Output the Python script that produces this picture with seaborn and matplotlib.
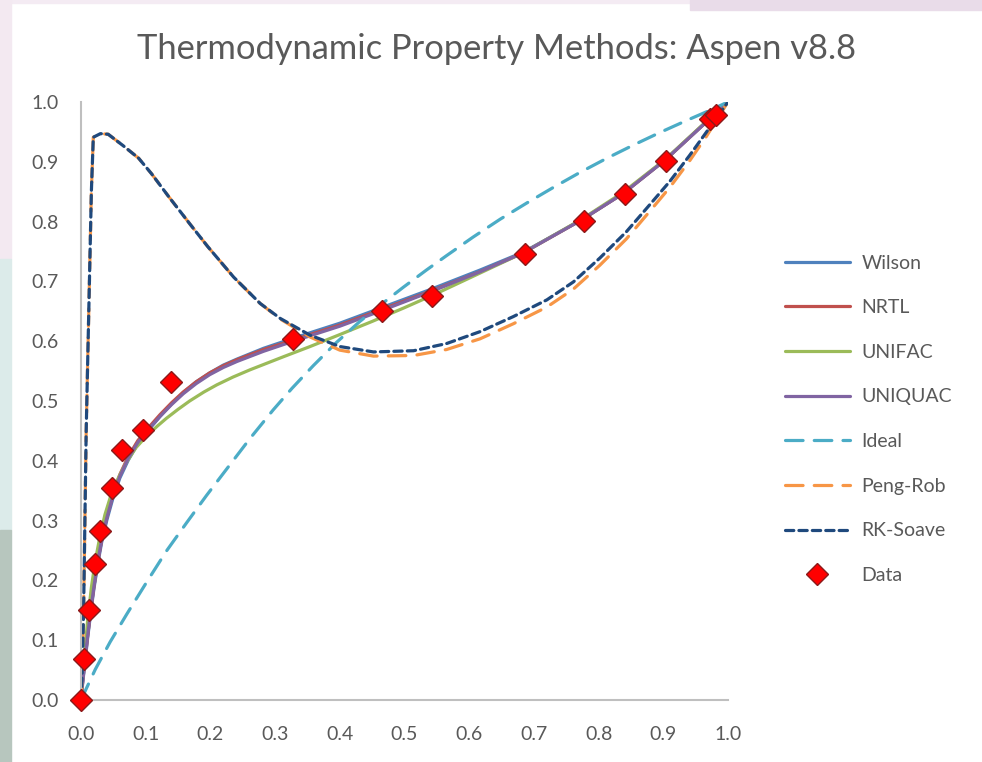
import matplotlib
matplotlib.use("Agg")
import matplotlib.pyplot as plt
from matplotlib.patches import Rectangle
import seaborn as sns
import pandas as pd

# ---- measured VLE data (liquid mole fraction x, vapour mole fraction y) ----
data_x = [0.0, 0.004, 0.013, 0.022, 0.030, 0.048, 0.064, 0.096, 0.139, 0.327,
          0.465, 0.542, 0.686, 0.777, 0.841, 0.905, 0.973, 0.982]
data_y = [0.0, 0.069, 0.151, 0.228, 0.282, 0.355, 0.418, 0.452, 0.531, 0.604,
          0.651, 0.675, 0.745, 0.801, 0.846, 0.901, 0.972, 0.978]

# ---- activity-coefficient models ----
act_x = [0.0, 0.002, 0.005, 0.010, 0.015, 0.020, 0.026, 0.032, 0.040, 0.049,
         0.060, 0.073, 0.088, 0.104, 0.122, 0.140, 0.158, 0.178, 0.199, 0.220,
         0.241, 0.282, 0.323, 0.354, 0.400, 0.462, 0.539, 0.617, 0.684, 0.774,
         0.838, 0.903, 0.972, 1.0]

wilson_y = [0.0, 0.022, 0.052, 0.101, 0.146, 0.186, 0.228, 0.264, 0.301, 0.336,
            0.371, 0.401, 0.429, 0.451, 0.474, 0.495, 0.514, 0.532, 0.547, 0.560,
            0.570, 0.588, 0.603, 0.614, 0.630, 0.655, 0.686, 0.719, 0.749, 0.803,
            0.847, 0.903, 0.972, 1.0]

nrtl_y = [0.0, 0.025, 0.055, 0.105, 0.150, 0.190, 0.232, 0.268, 0.306, 0.342,
          0.377, 0.407, 0.434, 0.455, 0.477, 0.497, 0.515, 0.532, 0.547, 0.559,
          0.569, 0.586, 0.600, 0.611, 0.627, 0.652, 0.683, 0.716, 0.748, 0.803,
          0.847, 0.903, 0.972, 1.0]

uniquac_y = [0.0, 0.025, 0.055, 0.105, 0.150, 0.190, 0.232, 0.268, 0.305, 0.340,
             0.374, 0.404, 0.431, 0.452, 0.474, 0.494, 0.512, 0.529, 0.544, 0.556,
             0.566, 0.583, 0.598, 0.609, 0.625, 0.650, 0.682, 0.716, 0.748, 0.803,
             0.847, 0.903, 0.972, 1.0]

unifac_x = [0.0, 0.002, 0.005, 0.010, 0.016, 0.022, 0.029, 0.037, 0.047, 0.058,
            0.070, 0.085, 0.101, 0.118, 0.132, 0.150, 0.168, 0.190, 0.210, 0.235,
            0.261, 0.287, 0.313, 0.354, 0.400, 0.450, 0.500, 0.550, 0.617, 0.684,
            0.774, 0.838, 0.903, 0.972, 1.0]
unifac_y = [0.0, 0.030, 0.070, 0.130, 0.188, 0.232, 0.272, 0.310, 0.345, 0.372,
            0.397, 0.422, 0.441, 0.458, 0.471, 0.486, 0.500, 0.515, 0.527, 0.540,
            0.552, 0.563, 0.574, 0.591, 0.611, 0.633, 0.656, 0.680, 0.714, 0.748,
            0.804, 0.849, 0.904, 0.973, 1.0]

# ---- ideal (Raoult's law) ----
ideal_x = [0.0, 0.006, 0.022, 0.045, 0.071, 0.102, 0.132, 0.163, 0.194, 0.225,
           0.261, 0.297, 0.326, 0.359, 0.395, 0.431, 0.467, 0.498, 0.534, 0.565,
           0.606, 0.648, 0.689, 0.730, 0.771, 0.813, 0.854, 0.895, 0.936, 0.972,
           1.0]
ideal_y = [0.0, 0.014, 0.051, 0.097, 0.144, 0.198, 0.249, 0.296, 0.342, 0.386,
           0.437, 0.485, 0.521, 0.559, 0.598, 0.633, 0.664, 0.690, 0.719, 0.743,
           0.774, 0.804, 0.831, 0.857, 0.882, 0.906, 0.928, 0.949, 0.969, 0.986,
           1.0]

# ---- cubic equations of state ----
eos_x = [0.0, 0.002, 0.004, 0.006, 0.008, 0.010, 0.013, 0.016, 0.019, 0.030,
         0.042, 0.065, 0.089, 0.109, 0.136, 0.169, 0.196, 0.236, 0.277, 0.308,
         0.354, 0.400, 0.452, 0.514, 0.565, 0.617, 0.668, 0.720, 0.761, 0.802,
         0.843, 0.879, 0.910, 0.941, 0.967, 1.0]

rk_y = [0.0, 0.05, 0.15, 0.30, 0.45, 0.55, 0.70, 0.85, 0.941, 0.947,
        0.946, 0.927, 0.906, 0.880, 0.841, 0.795, 0.758, 0.707, 0.663, 0.638,
        0.610, 0.591, 0.582, 0.584, 0.596, 0.616, 0.641, 0.669, 0.699, 0.739,
        0.783, 0.828, 0.867, 0.911, 0.950, 1.0]

pr_y = [0.0, 0.05, 0.15, 0.30, 0.45, 0.55, 0.70, 0.85, 0.941, 0.947,
        0.946, 0.927, 0.906, 0.880, 0.841, 0.795, 0.758, 0.707, 0.663, 0.637,
        0.607, 0.585, 0.575, 0.576, 0.586, 0.604, 0.629, 0.657, 0.687, 0.727,
        0.771, 0.817, 0.857, 0.902, 0.943, 1.0]

# ---- styling ----
sns.set_theme(style="white")
plt.rcParams["font.family"] = ["Lato", "DejaVu Sans"]
text_grey = "#595959"

fig = plt.figure(figsize=(9.82, 7.62), dpi=100)
fig.patch.set_facecolor("white")

# slide backdrop peeking around the chart
fig.patches.extend([
    Rectangle((0, 0.996), 1, 0.004, transform=fig.transFigure, color="#F4EBF3", zorder=0),
    Rectangle((0.703, 0.987), 0.297, 0.013, transform=fig.transFigure, color="#E9DCE9", zorder=0),
    Rectangle((0, 0.66), 0.011, 0.34, transform=fig.transFigure, color="#F3E9F1", zorder=0),
    Rectangle((0, 0.305), 0.011, 0.355, transform=fig.transFigure, color="#DCEBEA", zorder=0),
    Rectangle((0, 0.0), 0.011, 0.305, transform=fig.transFigure, color="#B7C6BE", zorder=0),
])

ax = fig.add_axes([0.0825, 0.0814, 0.6588, 0.7848])
ax.set_facecolor("white")

series = [
    ("Wilson", act_x, wilson_y, "#4F81BD", "-"),
    ("NRTL", act_x, nrtl_y, "#C0504D", "-"),
    ("UNIFAC", unifac_x, unifac_y, "#9BBB59", "-"),
    ("UNIQUAC", act_x, uniquac_y, "#8064A2", "-"),
    ("Ideal", ideal_x, ideal_y, "#4BACC6", (0, (5.5, 3.5))),
    ("Peng-Rob", eos_x, pr_y, "#F79646", (0, (5.5, 3.5))),
    ("RK-Soave", eos_x, rk_y, "#1F497D", (0, (2.6, 1.6))),
]

for name, xs, ys, col, ls in series:
    df = pd.DataFrame({"x": xs, "y": ys})
    sns.lineplot(data=df, x="x", y="y", ax=ax, sort=False, estimator=None,
                 color=col, linewidth=2.3, linestyle=ls, label=name,
                 solid_capstyle="round", dash_capstyle="round",
                 solid_joinstyle="round", dash_joinstyle="round")

ax.plot(data_x, data_y, linestyle="none", marker="D", markersize=11.5,
        markerfacecolor="#FF0000", markeredgecolor="#8B1A1A",
        markeredgewidth=1.0, label="Data", zorder=5, clip_on=False)

ax.set_xlim(0, 1.0)
ax.set_ylim(0, 1.0)
ticks = [0.0, 0.1, 0.2, 0.3, 0.4, 0.5, 0.6, 0.7, 0.8, 0.9, 1.0]
tick_labels = ["0.0", "0.1", "0.2", "0.3", "0.4", "0.5", "0.6", "0.7", "0.8", "0.9", "1.0"]
ax.set_xticks(ticks)
ax.set_xticklabels(tick_labels)
ax.set_yticks(ticks)
ax.set_yticklabels(tick_labels)
ax.tick_params(axis="both", labelsize=14, colors=text_grey, length=0)
ax.tick_params(axis="x", pad=19)
ax.tick_params(axis="y", pad=16)
ax.set_xlabel("")
ax.set_ylabel("")
for side in ("top", "right"):
    ax.spines[side].set_visible(False)
for side in ("left", "bottom"):
    ax.spines[side].set_color("#BFBFBF")
    ax.spines[side].set_linewidth(1.5)
ax.grid(False)

fig.text(0.506, 0.936, "Thermodynamic Property Methods: Aspen v8.8",
         ha="center", va="center", fontsize=24.8, color=text_grey)

handles, labels = ax.get_legend_handles_labels()
leg = ax.legend(handles, labels, loc="upper left",
                bbox_to_anchor=(0.791, 0.676), bbox_transform=fig.transFigure,
                frameon=False, fontsize=14, handlelength=3.35, handletextpad=0.62,
                labelspacing=1.42, labelcolor=text_grey, borderaxespad=0)

fig.savefig("out.png", dpi=100, facecolor=fig.get_facecolor())
